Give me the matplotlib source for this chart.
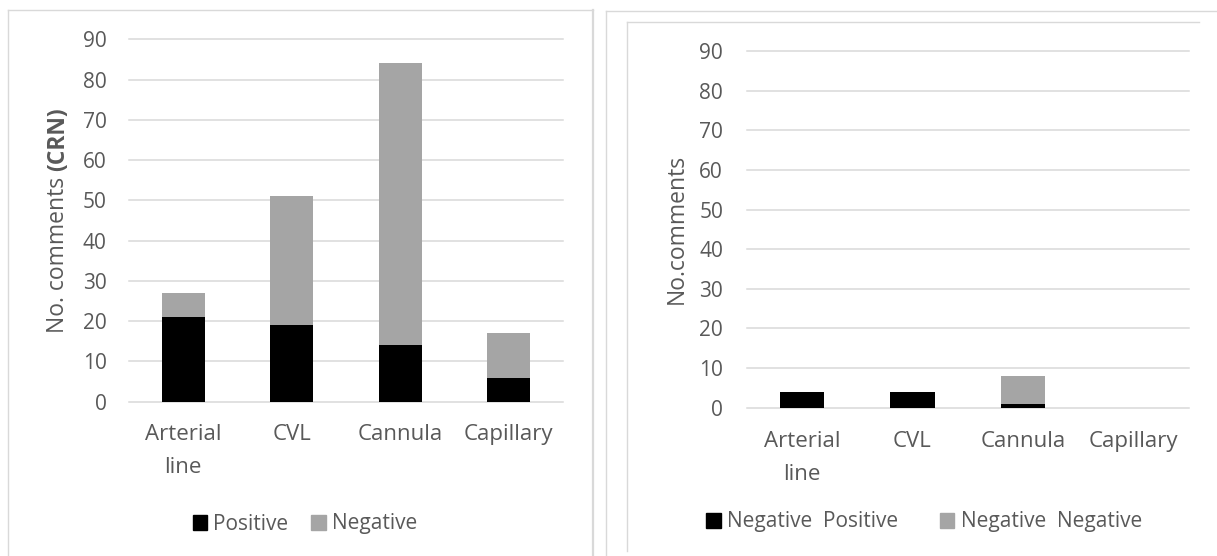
import matplotlib
matplotlib.use('Agg')
import matplotlib.pyplot as plt
from matplotlib.lines import Line2D
from matplotlib.patches import Patch
import numpy as np

# data
categories = ['Arterial\nline', 'CVL', 'Cannula', 'Capillary']
crn_positive = [21, 19, 14, 6]
crn_negative = [6, 32, 70, 11]
neg_positive = [4, 4, 1, 0]
neg_negative = [0, 0, 7, 0]
y_ticks = [0, 10, 20, 30, 40, 50, 60, 70, 80, 90]

W, H, DPI = 1217, 556, 100
TXT = '#595959'
GRID = '#d9d9d9'
GREY = '#a5a5a5'
FS = 15
FS_X = 16
FS_LAB = 16.5

plt.rcParams['font.family'] = ['Open Sans', 'DejaVu Sans']

fig = plt.figure(figsize=(W / DPI, H / DPI), dpi=DPI)


def px_rect(x0, y_top, x1, y_bot):
    return [x0 / W, 1 - y_bot / H, (x1 - x0) / W, (y_bot - y_top) / H]


def style_axes(ax, pad_y, pad_x):
    ax.set_xlim(-0.5, len(categories) - 0.5)
    ax.set_ylim(0, 90)
    ax.set_yticks(y_ticks)
    ax.set_xticks(np.arange(len(categories)))
    ax.set_xticklabels(categories, linespacing=1.75)
    ax.yaxis.grid(True, color=GRID, lw=1.1)
    ax.set_axisbelow(True)
    for s in ax.spines.values():
        s.set_visible(False)
    ax.tick_params(axis='y', length=0, pad=pad_y, labelsize=FS, labelcolor=TXT)
    ax.tick_params(axis='x', length=0, pad=pad_x, labelsize=FS_X, labelcolor=TXT)
    for gl in ax.get_ygridlines():
        gl.set_clip_on(False)


x = np.arange(len(categories))

# left chart
ax1 = fig.add_axes(px_rect(129, 39.3, 563, 401.7))
ax1.bar(x, crn_positive, width=0.4, color='black', zorder=3)
ax1.bar(x, crn_negative, width=0.4, bottom=crn_positive, color=GREY, zorder=3)
style_axes(ax1, 16, 16)

# right chart
ax2 = fig.add_axes(px_rect(746.7, 51, 1188.7, 407.7))
ax2.bar(x, neg_positive, width=0.4, color='black', zorder=3)
ax2.bar(x, neg_negative, width=0.4, bottom=neg_positive, color=GREY, zorder=3)
style_axes(ax2, 17, 17)

# legends
fig.legend(handles=[Patch(color='black', label='Positive'),
                    Patch(color=GREY, label='Negative')],
           loc='center', bbox_to_anchor=(305 / W, 1 - 524 / H), ncol=2,
           frameon=False, fontsize=FS, handlelength=0.7, handleheight=0.7,
           handletextpad=0.3, columnspacing=1.1, borderpad=0, labelcolor=TXT)
fig.legend(handles=[Patch(color='black', label='Negative  Positive'),
                    Patch(color=GREY, label='Negative  Negative')],
           loc='center', bbox_to_anchor=(924 / W, 1 - 522 / H), ncol=2,
           frameon=False, fontsize=FS, handlelength=0.7, handleheight=0.7,
           handletextpad=0.3, columnspacing=2.0, borderpad=0, labelcolor=TXT)

# y labels
fig.text(677 / W, 1 - 229 / H, 'No.comments', rotation=90, ha='center', va='center',
         fontsize=FS_LAB, color=TXT)

lab1 = fig.text(58 / W, 1 - 333 / H, 'No. comments', rotation=90, rotation_mode='anchor',
                ha='left', va='center', fontsize=FS_LAB, color=TXT)
fig.canvas.draw()
bb = lab1.get_window_extent(fig.canvas.get_renderer())
fig.text(58 / W, (bb.y1 + 6) / H, '(CRN)', rotation=90, rotation_mode='anchor',
         ha='left', va='center', fontsize=FS_LAB, color=TXT, fontweight='bold')

# chart borders
def hline(x0, x1, y, lw=1.0):
    fig.add_artist(Line2D([x0 / W, x1 / W], [1 - y / H, 1 - y / H], color=GRID, lw=lw))


def vline(x0, y0, y1, lw=1.0):
    fig.add_artist(Line2D([x0 / W, x0 / W], [1 - y0 / H, 1 - y1 / H], color=GRID, lw=lw))


hline(8, 593, 10)
vline(8, 10, 556)
vline(593, 10, 556, lw=1.6)
hline(605.7, 1217, 11)
vline(605.7, 11, 556)
hline(626.7, 1198.7, 22.3)
vline(626.7, 22.3, 551)

fig.savefig('out.png', dpi=DPI)
